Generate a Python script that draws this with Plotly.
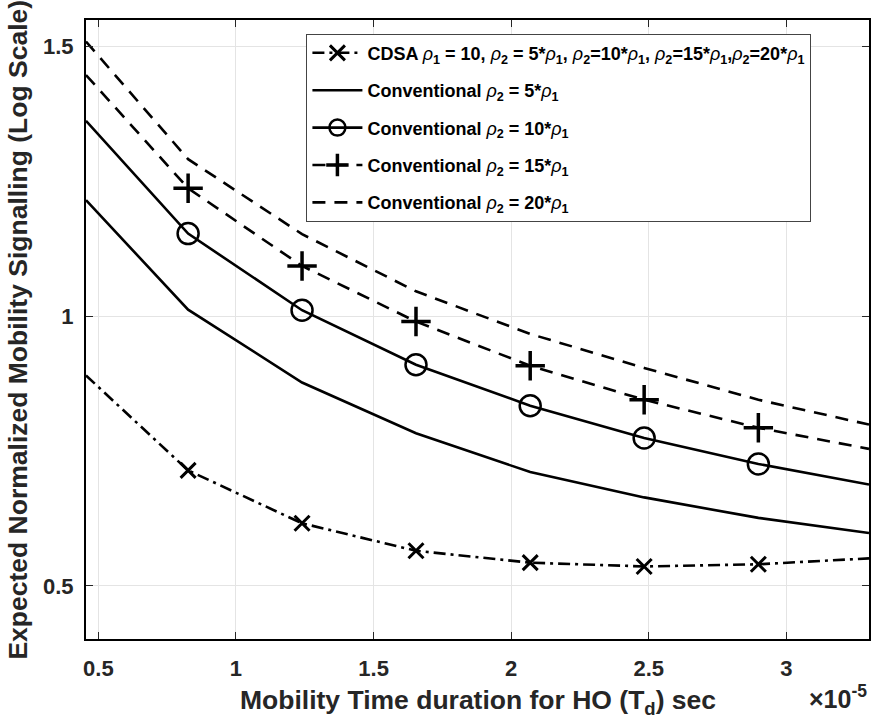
import plotly.graph_objects as go

# Mobility time duration T_d, in units of 1e-5 s
td = [0.455, 0.826, 1.240, 1.654, 2.069, 2.483, 2.898, 3.300]

# Expected normalized mobility signalling
cdsa = [0.890, 0.714, 0.616, 0.565, 0.543, 0.536, 0.540, 0.551]
conv_5 = [1.215, 1.012, 0.877, 0.783, 0.711, 0.664, 0.626, 0.598]
conv_10 = [1.362, 1.153, 1.011, 0.910, 0.834, 0.774, 0.726, 0.688]
conv_15 = [1.447, 1.237, 1.093, 0.990, 0.908, 0.845, 0.793, 0.754]
conv_20 = [1.509, 1.291, 1.152, 1.046, 0.967, 0.904, 0.845, 0.799]

x_ticks = [0.5, 1, 1.5, 2, 2.5, 3]
x_tick_text = ["0.5", "1", "1.5", "2", "2.5", "3"]
y_ticks = [0.5, 1, 1.5]
y_tick_text = ["0.5", "1", "1.5"]

FONT = "Liberation Sans, Arial, Helvetica, sans-serif"
INK = "#262626"


def rho(k):
    return "<i>ρ</i><b><sub>%s</sub></b>" % k


def b(s):
    return "<b>%s</b>" % s


names = [
    b("CDSA ") + rho(1) + b(" = 10, ") + rho(2) + b(" = 5*") + rho(1) + b(", ")
    + rho(2) + b("=10*") + rho(1) + b(", ") + rho(2) + b("=15*") + rho(1) + b(",")
    + rho(2) + b("=20*") + rho(1),
    b("Conventional ") + rho(2) + b(" = 5*") + rho(1),
    b("Conventional ") + rho(2) + b(" = 10*") + rho(1),
    b("Conventional ") + rho(2) + b(" = 15*") + rho(1),
    b("Conventional ") + rho(2) + b(" = 20*") + rho(1),
]

series = [cdsa, conv_5, conv_10, conv_15, conv_20]
dashes = ["12px,5px,3px,5px", "solid", "solid", "13px,9px", "13px,9px"]
symbols = ["x-thin-open", None, "circle-open", "cross-thin-open", None]
msizes = [15, 0, 21, 21, 0]
mwidths = [3, 0, 2.5, 3.5, 0]

LW = 2.6
fig = go.Figure()

for i, ys in enumerate(series):
    line = dict(color="black", width=LW, dash=dashes[i])
    # curve through every sample
    fig.add_trace(go.Scatter(x=td, y=ys, mode="lines", line=line,
                             showlegend=False, hoverinfo="skip"))
    if symbols[i]:
        # markers on the interior samples
        fig.add_trace(go.Scatter(
            x=td[1:-1], y=ys[1:-1], mode="markers", showlegend=False,
            marker=dict(symbol=symbols[i], size=msizes[i], color="black",
                        line=dict(color="black", width=mwidths[i]))))
    # legend entry
    mode = "lines+markers" if symbols[i] else "lines"
    fig.add_trace(go.Scatter(
        x=[None], y=[None], mode=mode, name=names[i], line=line,
        legendgroup="g%d" % i,
        marker=dict(symbol=symbols[i] or "circle", size=msizes[i] or 1,
                    color="black",
                    line=dict(color="black", width=mwidths[i]))))

axis_common = dict(
    showline=True, linecolor="black", linewidth=2, mirror="allticks",
    ticks="inside", ticklen=7, tickwidth=1, tickcolor=INK,
    showgrid=True, gridcolor="#e4e4e4", gridwidth=1, zeroline=False,
    tickfont=dict(family=FONT, size=22, color=INK, weight="bold"),
)

fig.update_xaxes(range=[0.455, 3.30], tickvals=x_ticks, ticktext=x_tick_text,
                 ticklabelstandoff=9, **axis_common)
fig.update_yaxes(range=[0.4015, 1.549], tickvals=y_ticks, ticktext=y_tick_text,
                 ticklabelstandoff=6, **axis_common)

fig.update_layout(
    width=873, height=727,
    margin=dict(l=86, r=2, t=20, b=88),
    plot_bgcolor="white", paper_bgcolor="white",
    font=dict(family=FONT, color="black"),
    legend=dict(
        x=0.2815, y=0.978, xanchor="left", yanchor="top",
        bgcolor="white", bordercolor="#444", borderwidth=1,
        font=dict(family=FONT, size=18, color="black"),
        itemwidth=50, tracegroupgap=11,
    ),
    annotations=[
        dict(text="<b>Mobility Time duration for HO (T<sub>d</sub>) sec</b>",
             xref="paper", yref="paper", x=0.5, y=-0.101,
             xanchor="center", yanchor="middle", showarrow=False,
             font=dict(family=FONT, size=26.5, color=INK)),
        dict(text="<b>Expected Normalized Mobility Signalling (Log Scale)</b>",
             xref="paper", yref="paper", x=-0.088, y=0.5, textangle=-90,
             xanchor="center", yanchor="middle", showarrow=False,
             font=dict(family=FONT, size=26.5, color=INK)),
        dict(text="×10<sup>-5</sup>",
             xref="paper", yref="paper", x=1.0, y=-0.094,
             xanchor="right", yanchor="middle", showarrow=False,
             font=dict(family=FONT, size=25, color=INK, weight="bold")),
    ],
)

fig.write_html("out.html")
